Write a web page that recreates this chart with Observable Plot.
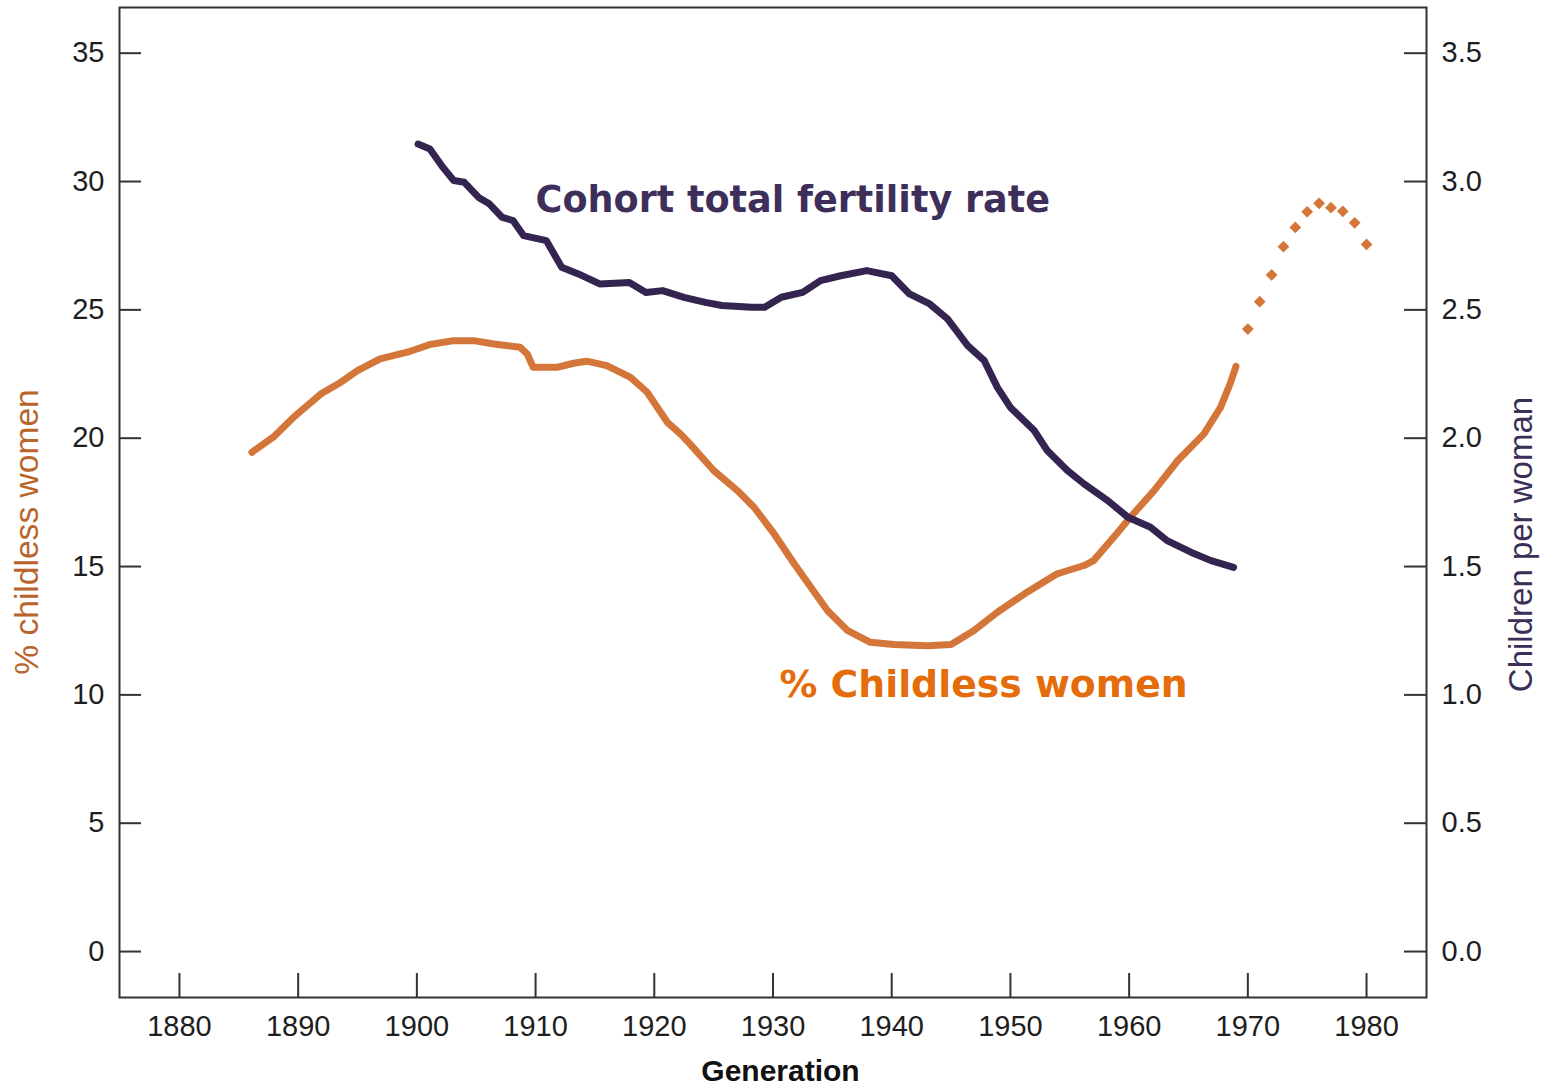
<!DOCTYPE html>
<html><head><meta charset="utf-8">
<script src="https://cdn.jsdelivr.net/npm/d3@7"></script>
<script src="https://cdn.jsdelivr.net/npm/@observablehq/plot@0.6"></script>
<style>html,body{margin:0;padding:0;background:#fff;overflow:hidden}</style>
</head><body><div id="chart"></div>
<script>
// % childless women (observed)
const childlessYears = [1886.1,1887.9,1889.6,1891.9,1893.6,1895.0,1896.9,1899.2,1901.1,1903.1,1904.8,1906.5,1908.7,1909.3,1909.8,1911.8,1913.2,1914.3,1916.0,1918.0,1919.4,1921.1,1922.2,1923.0,1925.0,1927.0,1928.4,1930.1,1931.8,1933.4,1934.6,1936.3,1938.2,1940.2,1943.0,1945.0,1946.9,1948.9,1951.4,1953.9,1956.2,1957.0,1958.7,1960.1,1962.1,1964.1,1966.3,1967.7,1968.5,1969.0];
const childlessValues = [19.45,20.04,20.81,21.72,22.18,22.63,23.09,23.35,23.65,23.80,23.80,23.67,23.54,23.28,22.76,22.76,22.92,23.00,22.83,22.37,21.79,20.62,20.17,19.78,18.74,17.96,17.31,16.27,15.10,14.06,13.28,12.50,12.05,11.96,11.91,11.96,12.50,13.22,14.00,14.71,15.04,15.23,16.14,16.92,17.96,19.13,20.17,21.20,22.11,22.80];
// % childless women (projected, dotted)
const projYears = [1970,1971,1972,1973,1974,1975,1976,1977,1978,1979,1980];
const projValues = [24.25,25.32,26.36,27.46,28.21,28.82,29.15,28.98,28.84,28.39,27.55];
// Cohort total fertility rate (children per woman)
const tfrYears = [1900.1,1901.1,1902.2,1903.1,1904.0,1905.2,1906.1,1907.2,1908.1,1909.0,1910.9,1912.2,1913.6,1915.4,1917.9,1919.3,1920.7,1922.5,1924.3,1925.7,1928.2,1929.3,1930.7,1932.5,1934.0,1935.7,1937.9,1940.0,1941.5,1943.2,1944.7,1946.4,1947.8,1948.9,1950.0,1952.0,1953.1,1954.8,1956.2,1958.2,1959.9,1961.8,1963.2,1965.2,1966.9,1968.8];
const tfrValues = [3.146,3.127,3.055,3.004,2.997,2.938,2.913,2.860,2.848,2.789,2.770,2.666,2.640,2.601,2.607,2.568,2.575,2.549,2.529,2.517,2.510,2.510,2.549,2.568,2.614,2.633,2.653,2.633,2.562,2.523,2.465,2.361,2.302,2.198,2.120,2.030,1.952,1.874,1.822,1.757,1.692,1.653,1.601,1.556,1.523,1.497];

const xTicks = [1880,1890,1900,1910,1920,1930,1940,1950,1960,1970,1980];
const yTicks = [0,5,10,15,20,25,30,35];
const rightTickLabels = ["0.0","0.5","1.0","1.5","2.0","2.5","3.0","3.5"];

const annotations = [
  {text: "Cohort total fertility rate", year: 1910, value: 29.28, series: "tfr"},
  {text: "% Childless women", year: 1930.55, value: 10.37, series: "childless"}
];

const childless = childlessYears.map((x, i) => ({x, v: childlessValues[i]}));
const proj = projYears.map((x, i) => ({x, v: projValues[i]}));
const tfr = tfrYears.map((x, i) => ({x, v: tfrValues[i] * 10}));

const W = 1547, H = 1089, mL = 119, mR = 121, mT = 7, mB = 92;
const plotW = W - mL - mR, plotH = H - mT - mB;
const orange = "#d4763a", purple = "#33254f", axisCol = "#333";

const chart = Plot.plot({
  width: W, height: H,
  marginLeft: mL, marginRight: mR, marginTop: mT, marginBottom: mB,
  style: {fontFamily: "'Liberation Sans', Arial, sans-serif", fontSize: "29px", color: "#1e1e1e", background: "#fff"},
  x: {domain: [1874.95, 1985.05]},
  y: {domain: [-1.79, 36.78]},
  marks: [
    Plot.line(childless, {x: "x", y: "v", stroke: orange, strokeWidth: 7, strokeLinejoin: "round", strokeLinecap: "round"}),
    Plot.dot(proj, {x: "x", y: "v", symbol: "diamond2", r: 5.3, fill: orange, stroke: "none"}),
    Plot.line(tfr, {x: "x", y: "v", stroke: purple, strokeWidth: 7, strokeLinejoin: "round", strokeLinecap: "round"}),
    Plot.frame({stroke: axisCol, strokeWidth: 2}),
    Plot.tickY(yTicks, {y: d => d, insetRight: plotW - 22, stroke: axisCol, strokeWidth: 2}),
    Plot.tickY(yTicks, {y: d => d, insetLeft: plotW - 22, stroke: axisCol, strokeWidth: 2}),
    Plot.tickX(xTicks, {x: d => d, insetTop: plotH - 24, stroke: axisCol, strokeWidth: 2}),
    Plot.axisY(yTicks, {anchor: "left", tickSize: 0, tickPadding: 15, label: null, fontSize: 29}),
    Plot.axisY(yTicks, {anchor: "right", tickSize: 0, tickPadding: 15, label: null, fontSize: 29,
      tickFormat: d => rightTickLabels[yTicks.indexOf(d)]}),
    Plot.axisX(xTicks, {anchor: "bottom", tickSize: 0, tickPadding: 18, label: null, fontSize: 29,
      tickFormat: d => String(d)}),
    Plot.text(annotations.filter(a => a.series === "tfr"), {x: "year", y: "value", text: "text", textAnchor: "start",
      fontSize: 36.6, fontWeight: "bold", fontFamily: "'DejaVu Sans', Verdana, sans-serif", fill: "#3d2f5a"}),
    Plot.text(annotations.filter(a => a.series === "childless"), {x: "year", y: "value", text: "text", textAnchor: "start",
      fontSize: 37.8, fontWeight: "bold", fontFamily: "'DejaVu Sans', Verdana, sans-serif", fill: "#e46c0a"}),
    Plot.text(["% childless women"], {frameAnchor: "left", textAnchor: "middle", lineAnchor: "middle", rotate: -90,
      dx: -92.6, dy: 29.5, fontSize: 33.6, fill: "#b8652c"}),
    Plot.text(["Children per woman"], {frameAnchor: "right", textAnchor: "middle", lineAnchor: "middle", rotate: -90,
      dx: 95.4, dy: 42, fontSize: 33, fill: "#3b2e57"}),
    Plot.text(["Generation"], {frameAnchor: "bottom", textAnchor: "middle", lineAnchor: "middle",
      dx: 7.5, dy: 74, fontSize: 30, fontWeight: "bold", fill: "#111"})
  ]
});
document.getElementById("chart").appendChild(chart);
</script>
</body></html>
